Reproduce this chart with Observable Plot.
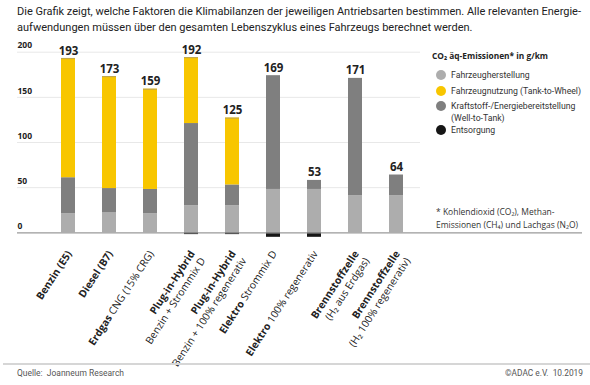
<!DOCTYPE html>
<html><head><meta charset="utf-8">
<script src="https://cdn.jsdelivr.net/npm/d3@7"></script>
<script src="https://cdn.jsdelivr.net/npm/@observablehq/plot@0.6"></script>
<style>
body{margin:0;background:#fff;}
#wrap{position:relative;width:590px;height:385px;overflow:hidden;font-family:"Open Sans",sans-serif;color:#222;}
.fit{display:inline-block;white-space:nowrap;transform-origin:0 0;}
#title{position:absolute;left:17px;top:4px;font-family:"Roboto","Open Sans",sans-serif;font-size:11.3px;line-height:15.5px;color:#222;}
#title div{white-space:nowrap;}
#chart{position:absolute;left:0;top:0;}
#legend{position:absolute;left:0;top:0;width:590px;height:385px;font-family:"Roboto",sans-serif;font-size:9.8px;color:#333;}
#legend .lt{position:absolute;left:432px;top:49px;font-family:"Open Sans",sans-serif;font-size:9.4px;font-weight:700;color:#222;white-space:nowrap;}
#legend .it{position:absolute;left:451px;white-space:nowrap;line-height:12px;}
#legend .it .fit{height:12px;line-height:12px;}
#legend .dot{position:absolute;left:-15px;top:1px;width:10px;height:10px;border-radius:50%;}
#note{position:absolute;left:436px;top:206px;font-size:9.4px;color:#333;}
#note div{height:12.5px;line-height:12.5px;white-space:nowrap;}
#note .fit{height:12.5px;line-height:12.5px;}
#rule{position:absolute;left:3px;right:0;top:363px;height:2px;background:#d6d6d6;}
#src{position:absolute;left:17px;top:368px;font-family:"Roboto",sans-serif;font-size:9px;color:#555;}
#copy{position:absolute;left:505px;top:368px;font-family:"Roboto",sans-serif;font-size:9px;color:#555;}
</style></head>
<body>
<div id="wrap">
<div id="chart"></div>
<div id="title"><div><span class="fit" data-g="title" data-w="564">Die Grafik zeigt, welche Faktoren die Klimabilanzen der jeweiligen Antriebsarten bestimmen. Alle relevanten Energie-</span></div><div><span class="fit" data-g="title">aufwendungen müssen über den gesamten Lebenszyklus eines Fahrzeugs berechnet werden.</span></div></div>
<div id="legend"></div>
<div id="note"><div><span class="fit" data-g="note">* Kohlendioxid (CO₂), Methan-</span></div><div><span class="fit" data-g="note" data-w="142">Emissionen (CH₄) und Lachgas (N₂O)</span></div></div>
<div id="rule"></div>
<div id="src"><span class="fit" data-g="src" data-w="107">Quelle:&nbsp; Joanneum Research</span></div>
<div id="copy"><span class="fit" data-g="copy" data-w="78">©ADAC e.V.&nbsp; 10.2019</span></div>
</div>
<script>
const categories = ["Benzin (E5)","Diesel (B7)","Erdgas CNG","PHEV Strommix","PHEV regenerativ","Elektro Strommix","Elektro regenerativ","Brennstoffzelle Erdgas","Brennstoffzelle regenerativ"];
const labelLine1 = ["**Benzin (E5)**","**Diesel (B7)**","**Erdgas** CNG (15% CRG)","**Plug-in-Hybrid**","**Plug-in-Hybrid**","**Elektro** Strommix D","**Elektro** 100% regenerativ","**Brennstoffzelle**","**Brennstoffzelle**"];
const labelLine2 = ["","","","Benzin + Strommix D","Benzin + 100% regenerativ","","","(H₂ aus Erdgas)","(H₂ 100% regenerativ)"];
const series = ["Fahrzeugherstellung","Fahrzeugnutzung (Tank-to-Wheel)","Kraftstoff-/Energiebereitstellung\n(Well-to-Tank)","Entsorgung"];
const seriesColors = ["#adadad","#f8c600","#7f7f7f","#161616"];
const herstellung = [21, 22, 21, 30, 30, 48, 48, 41, 41];
const nutzungTTW  = [132, 124, 111, 73, 74, 0, 0, 0, 0];
const bereitstellungWTT = [40, 27, 27, 91, 23, 126, 10, 130, 23];
const entsorgung  = [0, 0, 0, -2, -2, -5, -5, 0, 0];
const totals = [193, 173, 159, 192, 125, 169, 53, 171, 64];
const yTicks = [0, 50, 100, 150, 200];

const seriesValues = [herstellung, nutzungTTW, bereitstellungWTT, entsorgung];
const rows = [];
categories.forEach((c, i) => {
  [0, 2, 1, 3].forEach(s => {
    if (seriesValues[s][i] !== 0) rows.push({cat: c, series: series[s], value: seriesValues[s][i]});
  });
});
const tops = categories.map((c, i) => ({cat: c, top: herstellung[i] + nutzungTTW[i] + bereitstellungWTT[i], total: totals[i], ttw: nutzungTTW[i], l1: labelLine1[i], l2: labelLine2[i]}));

const rot = -57;
const plot = Plot.plot({
  width: 590,
  height: 362,
  marginLeft: 17,
  marginRight: 8,
  marginTop: 40,
  marginBottom: 100,
  style: {fontFamily: "'Open Sans', sans-serif", background: "transparent", overflow: "visible"},
  x: {type: "band", domain: categories, range: [33.7, 429.8], padding: 0.66, axis: null},
  y: {domain: [0, 200], range: [232.3, 51.7], axis: null},
  color: {domain: series, range: seriesColors},
  marks: [
    Plot.ruleY([50, 100, 150, 200], {stroke: "#e8e8e8", strokeWidth: 1, insetRight: 162}),
    Plot.barY(rows, {x: "cat", y: "value", fill: "series", order: [series[0], series[2], series[1], series[3]]}),
    Plot.tickY(tops.filter(d => d.ttw > 0), {x: "cat", y: "top", stroke: "#c2a84a", strokeWidth: 1.2}),
    Plot.ruleY([0], {stroke: "#9a9a9a", strokeWidth: 1.2}),
    Plot.text(yTicks, {y: d => d, text: d => String(d), frameAnchor: "left", textAnchor: "start", dy: -6.5, fontSize: 8.5, fontWeight: 700, fill: "#222"}),
    Plot.text(tops, {x: "cat", y: "top", text: d => String(d.total), lineAnchor: "bottom", dy: -4, fontSize: 11.5, fontWeight: 700, fill: "#222"}),
    Plot.text(tops, {x: "cat", y: () => 0, text: "l1", rotate: rot, textAnchor: "end", lineAnchor: "middle", dx: 1, dy: 19, fontSize: 10.3, fill: "#222"}),
    Plot.text(tops.filter(d => d.l2), {x: "cat", y: () => 0, text: "l2", rotate: rot, textAnchor: "end", lineAnchor: "middle", dx: 11.5, dy: 26, fontSize: 10.3, fill: "#222"})
  ]
});
plot.querySelectorAll("text, tspan").forEach(el => {
  [...el.childNodes].forEach(n => {
    if (n.nodeType === 3 && n.nodeValue.includes("**")) {
      const parts = n.nodeValue.split("**");
      const frag = document.createDocumentFragment();
      parts.forEach((p, k) => {
        if (!p) return;
        const ts = document.createElementNS("http://www.w3.org/2000/svg", "tspan");
        ts.textContent = p;
        if (k % 2 === 1) ts.setAttribute("font-weight", "700");
        frag.appendChild(ts);
      });
      el.replaceChild(frag, n);
    }
  });
});
document.getElementById("chart").appendChild(plot);

// legend (layout positions of entries)
const legendTops = [69, 85, 99.7, 123.5];
const leg = document.getElementById("legend");
leg.innerHTML = '<div class="lt"><span class="fit" data-g="lt" data-w="116">CO₂ äq-Emissionen* in g/km</span></div>' +
  series.map((s, i) => {
    const lines = s.split("\n");
    return `<div class="it" style="top:${legendTops[i]}px"><span class="dot" style="background:${seriesColors[i]}"></span>` +
      lines.map((l, j) => `<span class="fit" data-g="leg"${i === 1 ? ' data-w="130"' : ''}>${l}</span>`).join("<br>") + `</div>`;
  }).join("");

// uniform horizontal scale per text group
const groups = {};
document.querySelectorAll(".fit[data-w]").forEach(el => {
  groups[el.dataset.g] = (+el.dataset.w) / el.getBoundingClientRect().width;
});
document.querySelectorAll(".fit").forEach(el => {
  const s = groups[el.dataset.g] || 1;
  el.style.transform = `scaleX(${s})`;
});
</script>
</body></html>
